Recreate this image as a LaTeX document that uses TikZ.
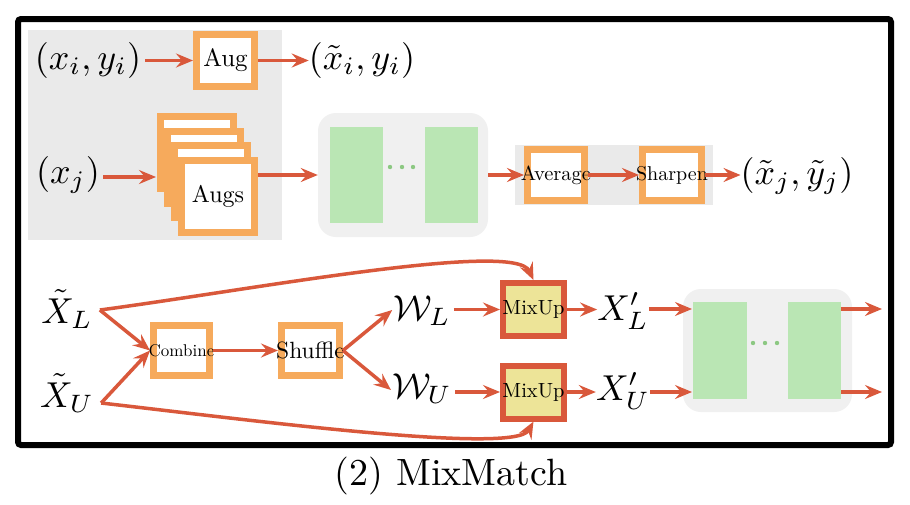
\documentclass[tikz,border=0pt]{standalone}
\usepackage{graphicx}
\usepackage{amsmath}
\usetikzlibrary{arrows.meta,calc}
\definecolor{arrc}{RGB}{217,88,59}
\definecolor{orng}{RGB}{246,170,92}
\definecolor{grn}{RGB}{186,230,180}
\definecolor{dotg}{RGB}{140,200,130}
\definecolor{bgg}{RGB}{234,234,234}
\definecolor{netg}{RGB}{240,240,240}
\definecolor{mixf}{RGB}{237,228,152}
\newcommand{\mymath}[1]{\scalebox{3.6}{$#1$}}
\newcommand{\sclbl}[2]{\scalebox{#1}{#2}}
\begin{document}
\begin{tikzpicture}[x=1pt,y=-1pt,
  arr/.style={draw=arrc, line width=3.5pt, -{Stealth[length=17pt,width=14pt,inset=6pt]}},
  obox/.style={draw=orng, line width=7pt, fill=white, inner sep=0pt, rectangle},
  augsz/.style={minimum width=73pt, minimum height=72pt},
  mixbox/.style={draw=arrc, line width=6pt, fill=mixf, inner sep=0pt, rectangle, minimum width=61pt, minimum height=53pt},
  mth/.style={inner sep=0pt, anchor=base},
  netbox/.style={fill=netg, rounded corners=18pt, inner sep=0pt, minimum width=170pt, minimum height=124pt},
  grnbox/.style={fill=grn, inner sep=0pt, minimum width=53pt, minimum height=96pt},
  lbl/.style={inner sep=0pt, font=\normalsize}
]
\useasboundingbox (0,0) rectangle (910,504);
\fill[white] (0,0) rectangle (910,504);
% backgrounds
\fill[bgg] (28,30) rectangle (282,240);
\fill[bgg] (515,145) rectangle (713,205);
% top row
\node[mth] (xi) at (88,69) {\mymath{(x_i,y_i)}};
\node[obox, minimum width=58pt, minimum height=52pt,
  label={[lbl]center:\sclbl{2.5}{Aug}}] (aug) at (225.5,60.5) {};
\node[mth] (xti) at (362,69) {\mymath{(\tilde{x}_i,y_i)}};
% second row
\node[mth] (xj) at (68,183) {\mymath{(x_j)}};
\node[obox, augsz] (a1) at (196.5,152.5) {};
\node[obox, augsz] (a2) at (203.7,167.2) {};
\node[obox, augsz] (a3) at (210.8,181.8) {};
\node[obox, augsz, label={[lbl]center:\sclbl{2.4}{Augs}}] (augs) at (218,196.5) {};
\coordinate (augin) at (156,177);
\node[netbox] (net1) at (403,175) {};
\node[grnbox] (g1) at (356.5,175) {};
\node[grnbox] (g2) at (451.5,175) {};
\foreach \dx in {390,402,413} \fill[dotg] (\dx,167) circle (2.2pt);
\node[obox, minimum width=57pt, minimum height=51pt,
  label={[lbl]center:\sclbl{2.05}{Average}}] (avg) at (556,175) {};
\node[obox, minimum width=59pt, minimum height=51pt,
  label={[lbl]center:\sclbl{2.0}{Sharpen}}] (shp) at (672,175) {};
\node[mth] (xtj) at (797,184) {\mymath{(\tilde{x}_j,\tilde{y}_j)}};
% bottom part
\node[mth] (XL) at (67,323) {\mymath{\tilde{X}_L}};
\node[mth] (XU) at (67,407) {\mymath{\tilde{X}_U}};
\node[obox, minimum width=56pt, minimum height=50pt,
  label={[lbl]center:\sclbl{1.7}{Combine}}] (comb) at (181.5,350.5) {};
\node[obox, minimum width=58pt, minimum height=50pt,
  label={[lbl]center:\sclbl{2.35}{Shuffle}}] (shuf) at (310.5,350.5) {};
\node[mth] (WL) at (422,320) {\mymath{\mathcal{W}_L}};
\node[mth] (WU) at (422,398) {\mymath{\mathcal{W}_U}};
\node[mixbox, label={[lbl]center:\sclbl{2.05}{MixUp}}] (m1) at (533.5,309.5) {};
\node[mixbox, label={[lbl]center:\sclbl{2.05}{MixUp}}] (m2) at (533.5,392) {};
\node[mth] (XpL) at (623,320) {\mymath{X'_L}};
\node[mth] (XpU) at (623,400) {\mymath{X'_U}};
\node[netbox, minimum width=169pt, minimum height=123pt] (net2) at (767.5,350.5) {};
\node[grnbox, minimum width=54pt, minimum height=97pt] (g3) at (720,350.5) {};
\node[grnbox, minimum width=53pt, minimum height=97pt] (g4) at (814.5,350.5) {};
\foreach \dx in {753,765,777} \fill[dotg] (\dx,343) circle (2.2pt);
\coordinate (in1) at (692,309);
\coordinate (in2) at (692,392);
\coordinate (out1) at (882,309);
\coordinate (out2) at (882,392);
% arrows top
\draw[arr, shorten <=4pt] (xi.east |- aug.west) -- (aug.west);
\draw[arr] (aug.east) -- (xti.west |- aug.east);
\draw[arr, shorten <=3pt] (xj.east |- augin) -- (augin);
\draw[arr] (augs.east |- net1.west) -- (net1.west);
\draw[arr] (net1.east) -- (avg.west);
\draw[arr] (avg.east) -- (shp.west);
\draw[arr] (shp.east) -- (xtj.west |- shp.east);
% arrows bottom
\coordinate (xls) at ($(XL.base east)+(7,-13)$);
\coordinate (xus) at ($(XU.base east)+(7,-4)$);
\draw[arr] (xls) -- (comb.west);
\draw[arr] (xus) -- (comb.west);
\draw[arr] (xls) .. controls (250,290) and (515,240) .. (m1.north);
\draw[arr] (xus) .. controls (250,420) and (515,455) .. (m2.south);
\draw[arr] (comb.east) -- (shuf.west);
\coordinate (wlin) at ($(WL.base west)+(-1,-10)$);
\coordinate (wuin) at ($(WU.base west)+(-1,-8)$);
\draw[arr] (shuf.east) -- (wlin);
\draw[arr] (shuf.east) -- (wuin);
\draw[arr, shorten <=3pt] (WL.east |- m1.west) -- (m1.west);
\draw[arr, shorten <=3pt] (WU.east |- m2.west) -- (m2.west);
\draw[arr] (m1.east) -- (XpL.west |- m1.east);
\draw[arr] (m2.east) -- (XpU.west |- m2.east);
\draw[arr] (XpL.east |- in1) -- (in1);
\draw[arr] (XpU.east |- in2) -- (in2);
\draw[arr] (g4.east |- out1) -- (out1);
\draw[arr] (g4.east |- out2) -- (out2);
% frame and caption
\draw[line width=6pt, rounded corners=3pt] (18,19) rectangle (891,445);
\node[anchor=base, inner sep=0pt, font=\normalsize] (cap) at (451,485) {\scalebox{3.8}{(2)\hspace{0.35em}MixMatch}};
\end{tikzpicture}
\end{document}
